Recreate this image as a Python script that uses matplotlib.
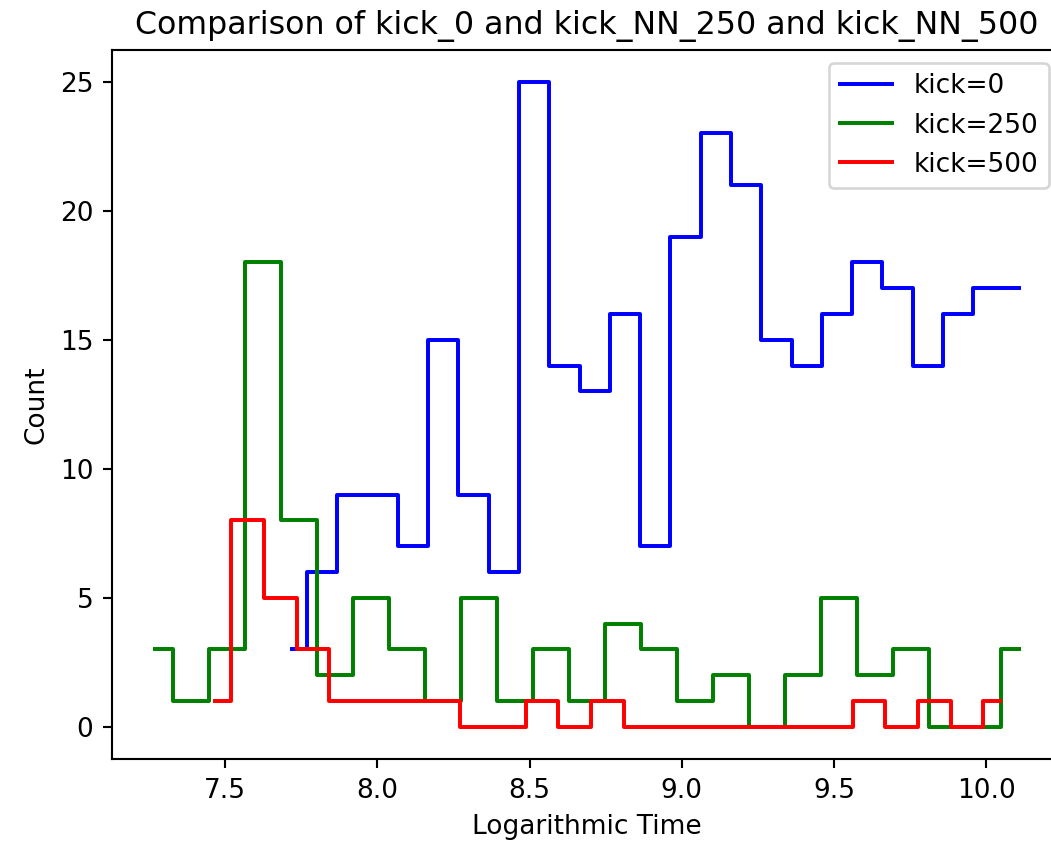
import matplotlib
matplotlib.use('Agg')
import matplotlib.pyplot as plt
import numpy as np

# histogram counts (25 bins each)
counts_kick0 = [3, 6, 9, 9, 7, 15, 9, 6, 25, 14, 13, 16, 7, 19, 23, 21, 15, 14, 16, 18, 17, 14, 16, 17, 17]
counts_kick250 = [3, 1, 3, 18, 8, 2, 5, 3, 1, 5, 1, 3, 1, 4, 3, 1, 2, 0, 2, 5, 2, 3, 0, 0, 3]
counts_kick500 = [1, 8, 5, 3, 1, 1, 1, 1, 0, 0, 1, 0, 1, 0, 0, 0, 0, 0, 0, 0, 1, 0, 1, 0, 1]

# first and last bin position of each series (log time)
range_kick0 = (7.719, 10.107)
range_kick250 = (7.269, 10.107)
range_kick500 = (7.466, 10.045)

labels = ['kick=0', 'kick=250', 'kick=500']
colors = ['blue', 'green', 'red']

plt.style.use('default')
plt.rcParams['savefig.bbox'] = 'standard'
plt.rcParams['figure.autolayout'] = False

dpi = 190
fig = plt.figure(figsize=(1051 / dpi, 843 / dpi), dpi=dpi, layout='none')
# the right edge of the plot runs a little past the edge of the picture
ax = fig.add_axes([0.1063, 0.0996, 0.9041, 0.8416])

series = [(counts_kick0, range_kick0), (counts_kick250, range_kick250), (counts_kick500, range_kick500)]
for (counts, (lo, hi)), lab, col in zip(series, labels, colors):
    x = np.linspace(lo, hi, len(counts))
    ax.step(x, counts, where='mid', color=col, label=lab)

ax.set_xlim(7.127, 10.249)
ax.set_ylim(-1.25, 26.25)
ax.set_title('Comparison of kick_0 and kick_NN_250 and kick_NN_500')
ax.set_xlabel('Logarithmic Time')
ax.set_ylabel('Count')
ax.legend(loc='upper right')

fig.savefig('out.png', dpi=dpi)
